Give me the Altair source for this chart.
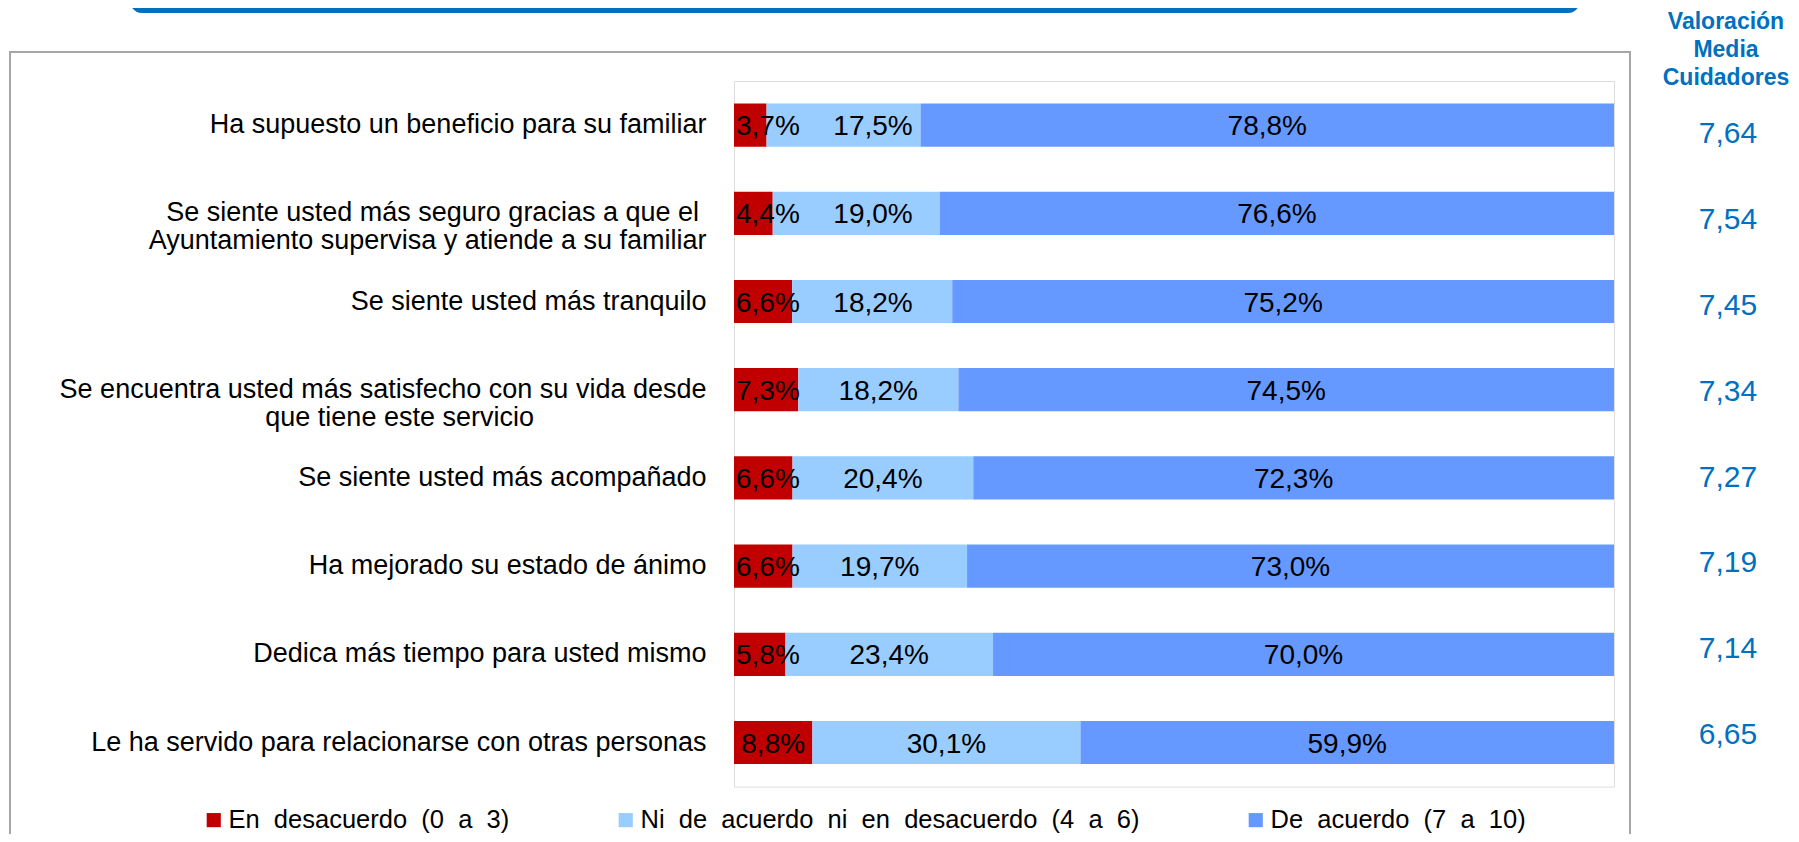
import altair as alt
import pandas as pd

NBSP = "\u00a0"
ZWSP = "\u200b"
categories = [
    "Ha supuesto un beneficio para su familiar",
    "Se siente usted más seguro gracias a que el" + NBSP + ZWSP + "\nAyuntamiento supervisa y atiende a su familiar",
    "Se siente usted más tranquilo",
    "Se encuentra usted más satisfecho con su vida desde\nque tiene este servicio" + NBSP * 23 + ZWSP,
    "Se siente usted más acompañado",
    "Ha mejorado su estado de ánimo",
    "Dedica más tiempo para usted mismo",
    "Le ha servido para relacionarse con otras personas",
]
desacuerdo = [3.7, 4.4, 6.6, 7.3, 6.6, 6.6, 5.8, 8.8]
ni_acuerdo = [17.5, 19.0, 18.2, 18.2, 20.4, 19.7, 23.4, 30.1]
acuerdo = [78.8, 76.6, 75.2, 74.5, 72.3, 73.0, 70.0, 59.9]
valoracion = [7.64, 7.54, 7.45, 7.34, 7.27, 7.19, 7.14, 6.65]
series = ["En desacuerdo (0 a 3)", "Ni de acuerdo ni en desacuerdo (4 a 6)", "De acuerdo (7 a 10)"]
colors = ["#C00000", "#99CCFF", "#6699FF"]
header = ["Valoración", "Media", "Cuidadores"]

FONT = "Liberation Sans"

rows = []
for i, cat in enumerate(categories):
    for j, vals in enumerate([desacuerdo, ni_acuerdo, acuerdo]):
        v = vals[i]
        rows.append({"cat": cat, "serie": series[j], "order": j, "value": v,
                     "label": f"{v:.1f}%".replace(".", ",")})
df = pd.DataFrame(rows)
dv = pd.DataFrame({"cat": categories,
                   "val": [f"{v:.2f}".replace(".", ",") for v in valoracion]})

yenc = alt.Y("cat:N", sort=categories,
             scale=alt.Scale(paddingInner=0.51, paddingOuter=0.255),
             axis=alt.Axis(title=None, domain=False, ticks=False, tickSize=0, grid=False,
                           labelPadding=28, labelFontSize=27, labelFont=FONT,
                           labelColor="black", labelLimit=900, labelLineHeight=28,
                           labelExpr="split(datum.label, '\\n')"))

base = alt.Chart(df).transform_stack(
    stack="value", groupby=["cat"], as_=["v0", "v1"], offset="normalize",
    sort=[alt.SortField("order", order="ascending")]
)

xscale = alt.Scale(domain=[0, 1], nice=False, zero=True)

bars = base.mark_bar().encode(
    x=alt.X("v0:Q", scale=xscale, axis=None),
    x2="v1:Q",
    y=yenc,
    color=alt.Color("serie:N", scale=alt.Scale(domain=series, range=colors),
                    legend=alt.Legend(orient="none", legendX=-533, legendY=726,
                                      direction="horizontal", columns=3, title=None,
                                      labelFontSize=25.5, labelFont=FONT, labelColor="black",
                                      labelLimit=700,
                                      labelExpr="replace(datum.label, regexp(' ', 'g'), '\u00a0 ')",
                                      symbolType="square", symbolSize=200,
                                      symbolStrokeWidth=0, labelOffset=2,
                                      columnPadding=103, padding=0)),
)

texts = base.transform_calculate(
    mid="(datum.v0 + datum.v1) / 2"
).transform_calculate(
    pos="datum.order == 0 ? max(datum.mid, 0.0385) : (datum.order == 1 ? max(datum.mid, 0.158) : datum.mid)"
).mark_text(fontSize=28, font=FONT, color="black", baseline="middle", dy=2).encode(
    x=alt.X("pos:Q", scale=xscale, axis=None),
    y=alt.Y("cat:N", sort=categories),
    text="label:N",
)

bars_text = alt.layer(bars, texts)

vals = alt.Chart(dv).mark_text(fontSize=30, font=FONT, color="#0070C0",
                               baseline="middle", dy=2).encode(
    x=alt.value(994),
    y=alt.Y("cat:N", sort=categories, axis=None,
            scale=alt.Scale(range=[8, 695.2], paddingInner=0, paddingOuter=0)),
    text="val:N",
)

one = pd.DataFrame({"k": [0]})
head = alt.Chart(one).mark_text(text=header, fontSize=23, fontWeight="bold", font=FONT,
                                color="#0070C0", baseline="alphabetic", lineHeight=28,
                                align="center").encode(
    x=alt.value(992), y=alt.value(-52))

frame = alt.Chart(one).mark_rect(filled=False, stroke="#A6A6A6", strokeWidth=2).encode(
    x=alt.value(-724), x2=alt.value(896), y=alt.value(-29), y2=alt.value(800))

band = alt.Chart(one).mark_rect(color="#0070C0", cornerRadiusBottomLeft=12,
                                cornerRadiusBottomRight=12).encode(
    x=alt.value(-604), x2=alt.value(846), y=alt.value(-110), y2=alt.value(-68))

chart = alt.layer(frame, band, bars_text, vals, head).resolve_scale(y="independent").properties(
    width=880, height=705.6,
    padding={"left": 726, "top": 73, "right": 177, "bottom": 47.4},
    autosize="none",
).configure_view(strokeWidth=0).configure(font=FONT)

chart.save("out.html", embed_options={"renderer": "svg", "actions": False})
